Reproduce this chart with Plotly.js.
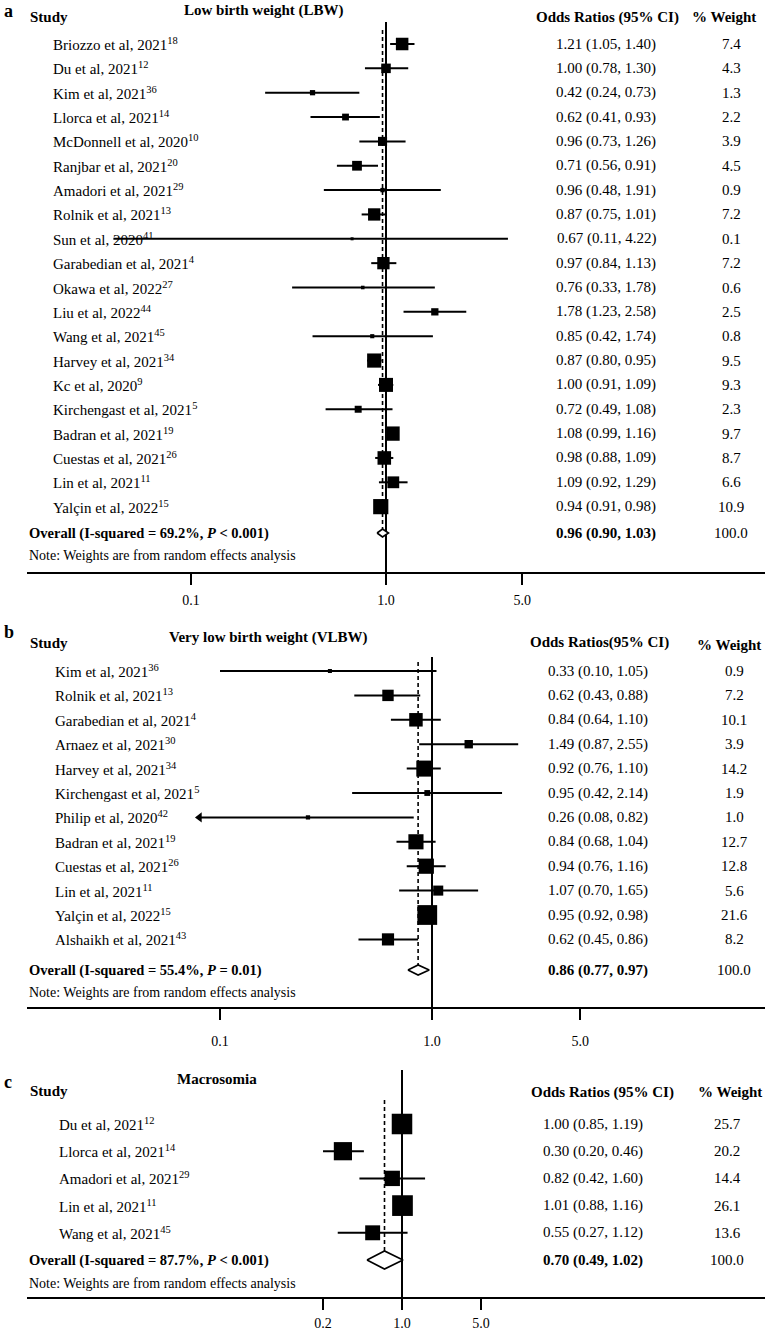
<!DOCTYPE html>
<html>
<head>
<meta charset="utf-8">
<script src="https://cdn.plot.ly/plotly-3.0.1.min.js"></script>
<style>body{margin:0;background:#fff}</style>
</head>
<body>
<div id="chart" style="width:765px;height:1333px"></div>
<script>
// Panel a: low birth weight
const aStudies = ['Briozzo et al, 2021', 'Du et al, 2021', 'Kim et al, 2021', 'Llorca et al, 2021',
  'McDonnell et al, 2020', 'Ranjbar et al, 2021', 'Amadori et al, 2021', 'Rolnik et al, 2021',
  'Sun et al, 2020', 'Garabedian et al, 2021', 'Okawa et al, 2022', 'Liu et al, 2022',
  'Wang et al, 2021', 'Harvey et al, 2021', 'Kc et al, 2020', 'Kirchengast et al, 2021',
  'Badran et al, 2021', 'Cuestas et al, 2021', 'Lin et al, 2021', 'Yalçin et al, 2022'];
const aRefs = ['18', '12', '36', '14', '10', '20', '29', '13', '41', '4', '27', '44', '45', '34', '9', '5', '19', '26', '11', '15'];
const aOR = [1.21, 1.00, 0.42, 0.62, 0.96, 0.71, 0.96, 0.87, 0.67, 0.97, 0.76, 1.78, 0.85, 0.87, 1.00, 0.72, 1.08, 0.98, 1.09, 0.94];
const aLo = [1.05, 0.78, 0.24, 0.41, 0.73, 0.56, 0.48, 0.75, 0.11, 0.84, 0.33, 1.23, 0.42, 0.80, 0.91, 0.49, 0.99, 0.88, 0.92, 0.91];
const aHi = [1.40, 1.30, 0.73, 0.93, 1.26, 0.91, 1.91, 1.01, 4.22, 1.13, 1.78, 2.58, 1.74, 0.95, 1.09, 1.08, 1.16, 1.09, 1.29, 0.98];
const aWeight = [7.4, 4.3, 1.3, 2.2, 3.9, 4.5, 0.9, 7.2, 0.1, 7.2, 0.6, 2.5, 0.8, 9.5, 9.3, 2.3, 9.7, 8.7, 6.6, 10.9];
// in the figure the Sun whisker is drawn further left than its printed CI
const aDrawnLo = [1.05, 0.78, 0.24, 0.41, 0.73, 0.56, 0.48, 0.75, 0.04, 0.84, 0.33, 1.23, 0.42, 0.80, 0.91, 0.49, 0.99, 0.88, 0.92, 0.91];
const aOverall = [0.96, 0.90, 1.03];
const aI2 = '69.2%';
const aP = '&lt; 0.001';

// Panel b: very low birth weight
const bStudies = ['Kim et al, 2021', 'Rolnik et al, 2021', 'Garabedian et al, 2021', 'Arnaez et al, 2021',
  'Harvey et al, 2021', 'Kirchengast et al, 2021', 'Philip et al, 2020', 'Badran et al, 2021',
  'Cuestas et al, 2021', 'Lin et al, 2021', 'Yalçin et al, 2022', 'Alshaikh et al, 2021'];
const bRefs = ['36', '13', '4', '30', '34', '5', '42', '19', '26', '11', '15', '43'];
const bOR = [0.33, 0.62, 0.84, 1.49, 0.92, 0.95, 0.26, 0.84, 0.94, 1.07, 0.95, 0.62];
const bLo = [0.10, 0.43, 0.64, 0.87, 0.76, 0.42, 0.08, 0.68, 0.76, 0.70, 0.92, 0.45];
const bHi = [1.05, 0.88, 1.10, 2.55, 1.10, 2.14, 0.82, 1.04, 1.16, 1.65, 0.98, 0.86];
const bWeight = [0.9, 7.2, 10.1, 3.9, 14.2, 1.9, 1.0, 12.7, 12.8, 5.6, 21.6, 8.2];
const bArrowLeft = [6];
const bOverall = [0.86, 0.77, 0.97];
const bI2 = '55.4%';
const bP = '= 0.01';

// Panel c: macrosomia
const cStudies = ['Du et al, 2021', 'Llorca et al, 2021', 'Amadori et al, 2021', 'Lin et al, 2021', 'Wang et al, 2021'];
const cRefs = ['12', '14', '29', '11', '45'];
const cOR = [1.00, 0.30, 0.82, 1.01, 0.55];
const cLo = [0.85, 0.20, 0.42, 0.88, 0.27];
const cHi = [1.19, 0.46, 1.60, 1.16, 1.12];
const cWeight = [25.7, 20.2, 14.4, 26.1, 13.6];
const cOverall = [0.70, 0.49, 1.02];
const cI2 = '87.7%';
const cP = '&lt; 0.001';

const FONT = 'Liberation Serif, Times New Roman, serif';
const W = 765, H = 1333;

const panels = [
  {n: '', letter: 'a', title: 'Low birth weight (LBW)', orHead: 'Odds Ratios (95% CI)',
   studies: aStudies, refs: aRefs, or: aOR, lo: aLo, hi: aHi, drawnLo: aDrawnLo, w: aWeight, arrows: [],
   overall: aOverall, i2: aI2, p: aP, ticks: [0.1, 1, 5], tickText: ['0.1', '1.0', '5.0'],
   row0: 44, step: 24.35, overallPy: 533, notePy: 555, top: 0, axisPy: 572,
   refTopPy: 22, dashTopPy: 30, diamondH: 4, onePx: 386, decadePx: 195, boxK: 4.6, standoff: 3,
   namesX: 51, orX: 606, wX: 731, orHeadX: 607, wHeadX: 724,
   letterPy: 11, titleX: 264, titlePy: 10, studyPy: 17, orHeadPy: 17, wHeadPy: 17},
  {n: '2', letter: 'b', title: 'Very low birth weight (VLBW)', orHead: 'Odds Ratios(95% CI)',
   studies: bStudies, refs: bRefs, or: bOR, lo: bLo, hi: bHi, drawnLo: bLo, w: bWeight, arrows: bArrowLeft,
   overall: bOverall, i2: bI2, p: bP, ticks: [0.1, 1, 5], tickText: ['0.1', '1.0', '5.0'],
   row0: 671, step: 24.4, overallPy: 970, notePy: 992, top: 615, axisPy: 1007,
   refTopPy: 657, dashTopPy: 662, diamondH: 5, onePx: 432, decadePx: 212, boxK: 4.25, standoff: 9,
   namesX: 53, orX: 598, wX: 734, orHeadX: 599, wHeadX: 729,
   letterPy: 632, titleX: 268, titlePy: 637, studyPy: 643, orHeadPy: 642, wHeadPy: 645},
  {n: '3', letter: 'c', title: 'Macrosomia', orHead: 'Odds Ratios (95% CI)',
   studies: cStudies, refs: cRefs, or: cOR, lo: cLo, hi: cHi, drawnLo: cLo, w: cWeight, arrows: [],
   overall: cOverall, i2: cI2, p: cP, ticks: [0.2, 1, 5], tickText: ['0.2', '1.0', '5.0'],
   row0: 1124, step: 27.2, overallPy: 1260, notePy: 1283, top: 1055, axisPy: 1297,
   refTopPy: 1070, dashTopPy: 1100, diamondH: 9, onePx: 402, decadePx: 113, boxK: 4.05, standoff: 1,
   namesX: 57, orX: 593, wX: 727, orHeadX: 602, wHeadX: 730,
   letterPy: 1082, titleX: 217, titlePy: 1079, studyPy: 1091, orHeadPy: 1092, wHeadPy: 1092}
];

const traces = [];
const shapes = [];
const annotations = [];
const layout = {
  width: W, height: H, margin: {l: 0, r: 0, t: 0, b: 0},
  paper_bgcolor: 'white', plot_bgcolor: 'white', showlegend: false,
  font: {family: FONT, color: 'black', size: 15}
};

function ann(text, xPx, yVal, yref, opts) {
  annotations.push(Object.assign({
    text: text, x: xPx / W, xref: 'paper', y: yVal, yref: yref,
    xanchor: 'left', yanchor: 'middle', showarrow: false,
    font: {family: FONT, size: 15, color: 'black'}
  }, opts || {}));
}

panels.forEach(p => {
  const xa = 'x' + p.n, ya = 'y' + p.n;
  const v = py => (py - p.row0) / p.step;   // pixel row -> y value
  const dh = p.diamondH / p.step;
  const overallRow = v(p.overallPy);

  layout['xaxis' + p.n] = {
    domain: [27 / W, 1], anchor: ya, type: 'log',
    range: [(27 - p.onePx) / p.decadePx, (W - p.onePx) / p.decadePx],
    showgrid: false, zeroline: false, showline: true, linewidth: 2, linecolor: 'black',
    ticks: 'outside', ticklen: 11, tickwidth: 2, tickcolor: 'black',
    tickvals: p.ticks, ticktext: p.tickText, ticklabelstandoff: p.standoff,
    tickfont: {family: FONT, size: 14, color: 'black'}, fixedrange: true
  };
  layout['yaxis' + p.n] = {
    domain: [1 - p.axisPy / H, 1 - p.top / H], anchor: xa,
    range: [v(p.axisPy), v(p.top)], visible: false, fixedrange: true
  };

  // whiskers
  const wx = [], wy = [];
  p.or.forEach((o, i) => { wx.push(p.drawnLo[i], p.hi[i], null); wy.push(i, i, null); });
  traces.push({x: wx, y: wy, xaxis: xa, yaxis: ya, type: 'scatter', mode: 'lines',
    line: {color: 'black', width: 2}, hoverinfo: 'skip', cliponaxis: false});

  // weighted boxes
  traces.push({x: p.or, y: p.or.map((_, i) => i), xaxis: xa, yaxis: ya, type: 'scatter', mode: 'markers',
    marker: {symbol: 'square', color: 'black', opacity: 1,
      size: p.w.map(w => Math.max(3, p.boxK * Math.sqrt(w))), line: {width: 0}},
    cliponaxis: false});

  if (p.arrows.length) {
    traces.push({x: p.arrows.map(i => p.drawnLo[i]), y: p.arrows, xaxis: xa, yaxis: ya, type: 'scatter',
      mode: 'markers', marker: {symbol: 'triangle-left', color: 'black', size: 9, opacity: 1}, cliponaxis: false});
  }

  // overall diamond
  const [oe, ol, oh] = p.overall;
  traces.push({x: [ol, oe, oh, oe, ol], y: [overallRow, overallRow - dh, overallRow, overallRow + dh, overallRow],
    xaxis: xa, yaxis: ya, type: 'scatter', mode: 'lines', fill: 'toself', fillcolor: 'white',
    line: {color: 'black', width: 1.6}, cliponaxis: false});

  // null line and overall line
  shapes.push({type: 'line', xref: xa, yref: ya, x0: 1, x1: 1, y0: v(p.refTopPy), y1: v(p.axisPy),
    line: {color: 'black', width: 2}, layer: 'below'});
  shapes.push({type: 'line', xref: xa, yref: ya, x0: oe, x1: oe, y0: v(p.dashTopPy), y1: overallRow - dh,
    line: {color: 'black', width: 1.6, dash: '4px,3px'}, layer: 'below'});

  // text columns
  ann('<b>' + p.letter + '</b>', 2, v(p.letterPy), ya, {font: {family: FONT, size: 18, color: 'black'}});
  ann('<b>' + p.title + '</b>', p.titleX, v(p.titlePy), ya, {xanchor: 'center'});
  ann('<b>Study</b>', 28, v(p.studyPy), ya);
  ann('<b>' + p.orHead + '</b>', p.orHeadX, v(p.orHeadPy), ya, {xanchor: 'center'});
  ann('<b>% Weight</b>', p.wHeadX, v(p.wHeadPy), ya, {xanchor: 'center'});

  p.studies.forEach((s, i) => {
    ann(s + '<sup>' + p.refs[i] + '</sup>', p.namesX, i, ya);
    ann(p.or[i].toFixed(2) + ' (' + p.lo[i].toFixed(2) + ', ' + p.hi[i].toFixed(2) + ')', p.orX, i, ya, {xanchor: 'center'});
    ann(p.w[i].toFixed(1), p.wX, i, ya, {xanchor: 'center'});
  });

  ann('<b>Overall (I-squared = ' + p.i2 + ', <i>P</i> ' + p.p + ')</b>', 27, overallRow, ya,
    {font: {family: FONT, size: 14.5, color: 'black'}});
  ann('<b>' + oe.toFixed(2) + ' (' + ol.toFixed(2) + ', ' + oh.toFixed(2) + ')</b>', p.orX, overallRow, ya, {xanchor: 'center'});
  ann('100.0', p.wX, overallRow, ya, {xanchor: 'center'});
  ann('Note: Weights are from random effects analysis', 27, v(p.notePy), ya,
    {font: {family: FONT, size: 14, color: 'black'}});
});

layout.shapes = shapes;
layout.annotations = annotations;

Plotly.newPlot('chart', traces, layout, {staticPlot: true});
</script>
</body>
</html>
